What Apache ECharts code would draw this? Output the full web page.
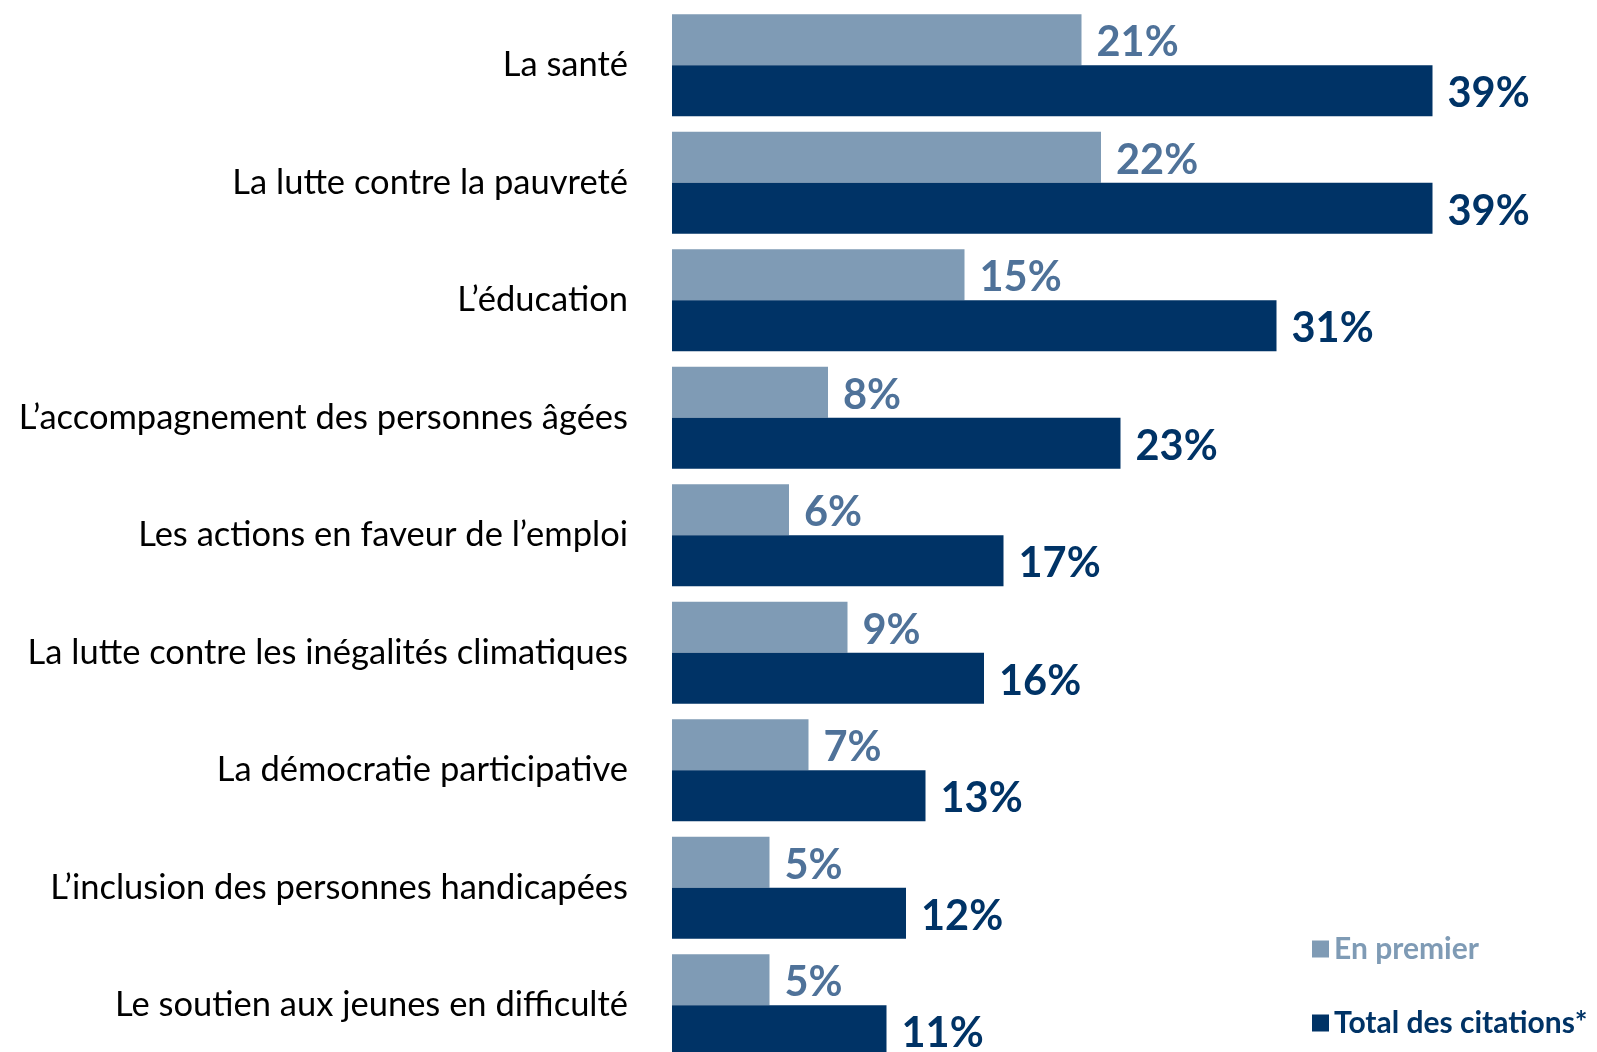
<!DOCTYPE html>
<html>
<head>
<meta charset="utf-8">
<script src="https://cdn.jsdelivr.net/npm/echarts@6/dist/echarts.min.js"></script>
<style>
  html, body { margin: 0; padding: 0; background: #fff; }
  #chart { width: 1597px; height: 1052px; }
</style>
</head>
<body>
<div id="chart"></div>
<script>
var categories = [
  'La santé',
  'La lutte contre la pauvreté',
  'L\u2019éducation',
  'L\u2019accompagnement des personnes âgées',
  'Les actions en faveur de l\u2019emploi',
  'La lutte contre les inégalités climatiques',
  'La démocratie participative',
  'L\u2019inclusion des personnes handicapées',
  'Le soutien aux jeunes en difficulté'
];
var enPremier = [21, 22, 15, 8, 6, 9, 7, 5, 5];
var totalCitations = [39, 39, 31, 23, 17, 16, 13, 12, 11];

var lightColor = '#7f9bb5';
var lightText = '#4f7299';
var darkColor = '#003366';
var font = 'Lato';

var myChart = echarts.init(document.getElementById('chart'));
var option = {
  animation: false,
  grid: {
    left: 672,
    top: 6.5,
    width: 780,
    height: 1057.5,
    outerBoundsMode: 'none'
  },
  legend: {
    orient: 'vertical',
    left: 1312,
    top: 934,
    padding: 0,
    itemWidth: 17,
    itemHeight: 17,
    itemGap: 44,
    icon: 'rect',
    textStyle: { fontFamily: font, fontSize: 30, fontWeight: 'bold' },
    data: [
      { name: 'En premier', textStyle: { color: lightColor } },
      { name: 'Total des citations*', textStyle: { color: darkColor } }
    ]
  },
  xAxis: {
    type: 'value',
    min: 0,
    max: 40,
    show: false
  },
  yAxis: {
    type: 'category',
    inverse: true,
    data: categories,
    axisLine: { show: false },
    axisTick: { show: false },
    axisLabel: {
      margin: 44,
      color: '#000',
      fontFamily: font,
      fontSize: 34.5
    }
  },
  series: [
    {
      name: 'En premier',
      type: 'bar',
      data: enPremier,
      barWidth: 51,
      barGap: 0,
      itemStyle: { color: lightColor },
      label: {
        show: true,
        position: 'right',
        distance: 15,
        offset: [0, 3],
        formatter: '{c}%',
        color: lightText,
        fontFamily: font,
        fontSize: 41.5,
        fontWeight: 'bold'
      }
    },
    {
      name: 'Total des citations*',
      type: 'bar',
      data: totalCitations,
      barWidth: 51,
      barGap: 0,
      itemStyle: { color: darkColor },
      label: {
        show: true,
        position: 'right',
        distance: 15,
        offset: [0, 3],
        formatter: '{c}%',
        color: darkColor,
        fontFamily: font,
        fontSize: 41.5,
        fontWeight: 'bold'
      }
    }
  ]
};
myChart.setOption(option);
</script>
</body>
</html>
